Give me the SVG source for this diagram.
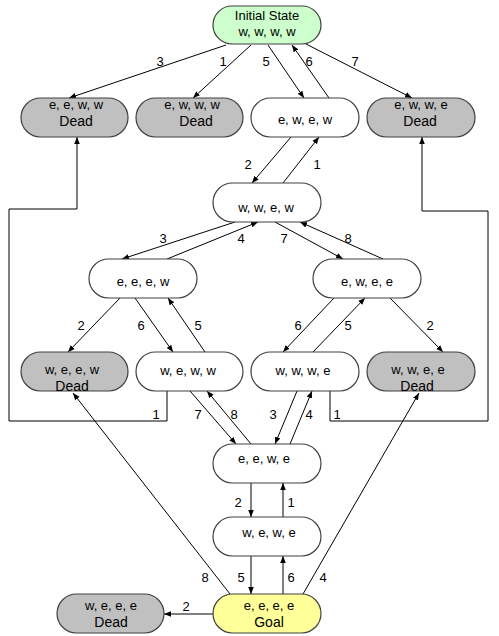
<svg xmlns="http://www.w3.org/2000/svg" width="499" height="636" viewBox="0 0 499 636">
<defs>
<marker id="ah" viewBox="0 0 10 10" refX="10" refY="5" markerWidth="7" markerHeight="7" markerUnits="userSpaceOnUse" orient="auto">
<path d="M0,1 L10,5 L0,9 z" fill="#000"/>
</marker>
<style>
.n{stroke:#404040;stroke-width:1.2}
.w{fill:#ffffff}
.g{fill:#c0c0c0}
.s{fill:#ccffcc}
.y{fill:#ffff99}
text{font-family:"Liberation Sans",Arial,sans-serif;fill:#000}
.t{font-size:13px;text-anchor:middle}
.d{font-size:14px;text-anchor:middle}
.l{font-size:13px;text-anchor:middle}
#edges path,#edges polyline{fill:none;stroke:#000;stroke-width:1;marker-end:url(#ah)}
</style>
</defs>
<rect width="499" height="636" fill="#fff"/>
<g id="edges">
<path d="M226,45 L69,98"/>
<path d="M251,45 L193,98"/>
<path d="M268,45 L304,98"/>
<path d="M329,98 L292,45"/>
<path d="M306,44 L412,98"/>
<path d="M291,137 L252,183"/>
<path d="M283,183 L319,137"/>
<path d="M235,222 L122,259"/>
<path d="M167,259 L258,222"/>
<path d="M275,222 L343,259"/>
<path d="M383,259 L300,222"/>
<path d="M120,298 L68,352"/>
<path d="M135,298 L173,352"/>
<path d="M205,352 L168,298"/>
<path d="M334,298 L283,352"/>
<path d="M313,352 L365,298"/>
<path d="M390,298 L443,352"/>
<path d="M190,391 L236,444"/>
<path d="M251,444 L207,391"/>
<path d="M297,391 L275,444"/>
<path d="M290,444 L312,391"/>
<polyline points="167,391 167,421 9,421 9,209 77,209 77,137"/>
<polyline points="330,391 330,421 488,421 488,211 422,211 422,137"/>
<path d="M251,483 L251,517"/>
<path d="M283,517 L283,483"/>
<path d="M251,556 L251,594"/>
<path d="M283,594 L283,556"/>
<path d="M213,614 L164,614"/>
<path d="M230,594 L73,393"/>
<path d="M303,594 L419,393"/>
</g>
<g id="edge-labels">
<text class="l" x="160" y="66">3</text>
<text class="l" x="223" y="66">1</text>
<text class="l" x="266" y="66">5</text>
<text class="l" x="309" y="66">6</text>
<text class="l" x="355" y="66">7</text>
<text class="l" x="248" y="169">2</text>
<text class="l" x="317" y="169">1</text>
<text class="l" x="163" y="243">3</text>
<text class="l" x="241" y="243">4</text>
<text class="l" x="284" y="243">7</text>
<text class="l" x="348" y="243">8</text>
<text class="l" x="81" y="330">2</text>
<text class="l" x="141" y="330">6</text>
<text class="l" x="198" y="330">5</text>
<text class="l" x="298" y="330">6</text>
<text class="l" x="348" y="330">5</text>
<text class="l" x="430" y="330">2</text>
<text class="l" x="156" y="419">1</text>
<text class="l" x="198" y="419">7</text>
<text class="l" x="234" y="419">8</text>
<text class="l" x="273" y="419">3</text>
<text class="l" x="309" y="419">4</text>
<text class="l" x="337" y="419">1</text>
<text class="l" x="238" y="507">2</text>
<text class="l" x="291" y="507">1</text>
<text class="l" x="205" y="582">8</text>
<text class="l" x="241" y="582">5</text>
<text class="l" x="291" y="582">6</text>
<text class="l" x="323" y="582">4</text>
<text class="l" x="186" y="611">2</text>
</g>
<g id="initial">
<rect class="n s" x="213" y="6" width="108" height="38" rx="19"/>
<text class="t" x="267" y="20">Initial State</text>
<text class="t" x="267" y="36">w, w, w, w</text>
</g>
<g id="eeww">
<rect class="n g" x="21" y="98" width="107" height="39" rx="19.5"/>
<text class="t" x="76" y="109">e, e, w, w</text>
<text class="d" x="76" y="126">Dead</text>
</g>
<g id="ewww">
<rect class="n g" x="136" y="98" width="107" height="39" rx="19.5"/>
<text class="t" x="192" y="109">e, w, w, w</text>
<text class="d" x="196" y="126">Dead</text>
</g>
<g id="ewew">
<rect class="n w" x="251" y="98" width="108" height="39" rx="19.5"/>
<text class="t" x="305" y="124">e, w, e, w</text>
</g>
<g id="ewwe">
<rect class="n g" x="367" y="98" width="108" height="39" rx="19.5"/>
<text class="t" x="421" y="109">e, w, w, e</text>
<text class="d" x="420" y="126">Dead</text>
</g>
<g id="wwew">
<rect class="n w" x="213" y="183" width="108" height="39" rx="19.5"/>
<text class="t" x="266" y="212">w, w, e, w</text>
</g>
<g id="eeew">
<rect class="n w" x="89" y="259" width="108" height="39" rx="19.5"/>
<text class="t" x="143" y="286">e, e, e, w</text>
</g>
<g id="ewee">
<rect class="n w" x="313" y="259" width="108" height="39" rx="19.5"/>
<text class="t" x="367" y="286">e, w, e, e</text>
</g>
<g id="weew">
<rect class="n g" x="21" y="352" width="107" height="39" rx="19.5"/>
<text class="t" x="72" y="374">w, e, e, w</text>
<text class="d" x="72" y="391">Dead</text>
</g>
<g id="weww">
<rect class="n w" x="136" y="352" width="107" height="39" rx="19.5"/>
<text class="t" x="188" y="375">w, e, w, w</text>
</g>
<g id="wwwe">
<rect class="n w" x="251" y="352" width="108" height="39" rx="19.5"/>
<text class="t" x="303" y="375">w, w, w, e</text>
</g>
<g id="wwee">
<rect class="n g" x="367" y="352" width="108" height="39" rx="19.5"/>
<text class="t" x="418" y="374">w, w, e, e</text>
<text class="d" x="417" y="391">Dead</text>
</g>
<g id="eewe">
<rect class="n w" x="213" y="444" width="108" height="39" rx="19.5"/>
<text class="t" x="264" y="463">e, e, w, e</text>
</g>
<g id="wewe">
<rect class="n w" x="213" y="517" width="108" height="39" rx="19.5"/>
<text class="t" x="269" y="537">w, e, w, e</text>
</g>
<g id="weee">
<rect class="n g" x="57" y="594" width="107" height="39" rx="19.5"/>
<text class="t" x="111" y="610">w, e, e, e</text>
<text class="d" x="111" y="627">Dead</text>
</g>
<g id="goal">
<rect class="n y" x="213" y="594" width="108" height="39" rx="19.5"/>
<text class="t" x="269" y="610">e, e, e, e</text>
<text class="d" x="269" y="627">Goal</text>
</g>
</svg>
